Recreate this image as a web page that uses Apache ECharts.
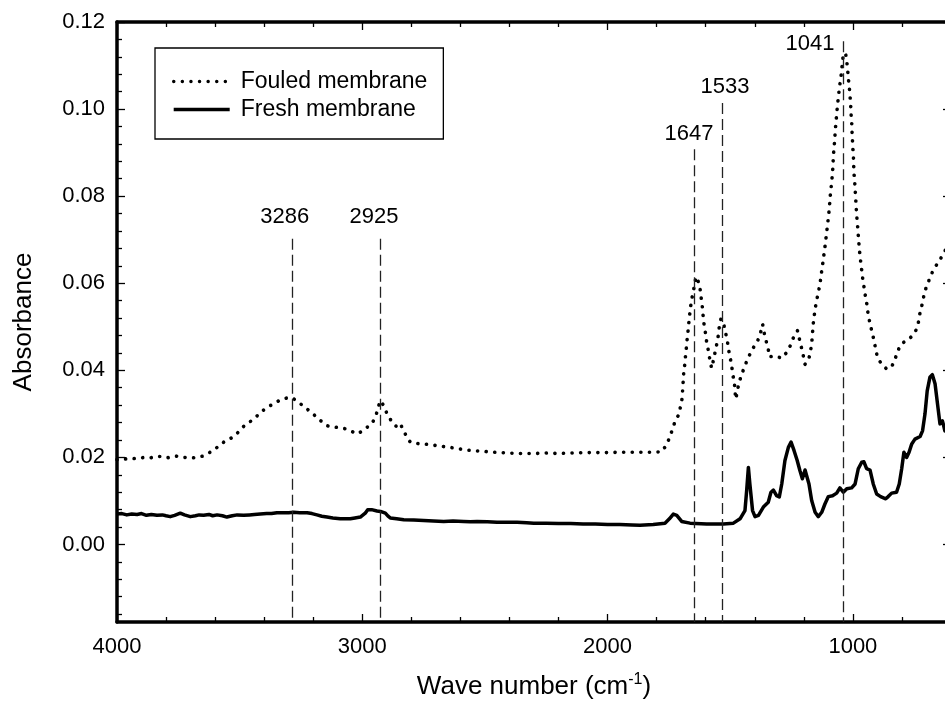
<!DOCTYPE html>
<html>
<head>
<meta charset="utf-8">
<script src="https://cdn.jsdelivr.net/npm/echarts@6/dist/echarts.min.js"></script>
<style>
html, body { margin: 0; padding: 0; overflow: hidden; background: #fff; width: 945px; height: 722px; }
#chart { width: 960px; height: 722px; }
</style>
</head>
<body>
<div id="chart"></div>
<script>
// FTIR spectra: wave number (cm-1) and absorbance
const fouledWavenumber = [4000,3973,3945,3918,3890,3864,3840,3823,3800,3783,3760,3742,3715,3690,3674,3650,3633,3610,3592,3565,3545,3524,3500,3484,3460,3443,3420,3402,3375,3350,3334,3310,3293,3275,3259,3240,3225,3205,3185,3165,3144,3125,3103,3080,3062,3040,3022,3005,2988,2975,2960,2945,2933,2926,2913,2899,2885,2872,2858,2845,2831,2818,2804,2780,2750,2720,2695,2670,2641,2610,2573,2540,2505,2470,2437,2400,2369,2330,2301,2250,2200,2150,2100,2050,2000,1950,1900,1868,1814,1780,1759,1746,1735,1725,1708,1702,1695,1694,1691,1689,1684,1682,1678,1675,1671,1668,1664,1660,1653,1646,1640,1634,1626,1621,1617,1612,1610,1606,1600,1596,1589,1583,1576,1569,1562,1555,1549,1545,1538,1528,1521,1512,1508,1501,1494,1490,1483,1481,1477,1471,1464,1453,1440,1426,1409,1388,1376,1368,1362,1354,1345,1341,1318,1290,1270,1252,1240,1226,1218,1210,1202,1195,1182,1175,1168,1165,1161,1154,1148,1141,1134,1130,1125,1120,1116,1111,1107,1103,1099,1096,1093,1091,1086,1084,1081,1080,1077,1074,1072,1069,1066,1063,1059,1055,1050,1046,1043,1039,1030,1025,1021,1019,1015,1012,1009,1008,1005,1004,1002,1001,998,997,996,993,991,989,987,985,982,979,977,974,971,967,963,959,953,948,944,940,936,930,921,914,907,900,883,862,842,828,819,808,794,781,767,754,743,733,726,717,710,702,693,686,675,665,656,645,631,620,610,600];
const fouledAbsorbance = [0.0195,0.0196,0.0198,0.0197,0.0200,0.0199,0.0202,0.0202,0.0199,0.0200,0.0203,0.0202,0.0199,0.0199,0.0200,0.0203,0.0208,0.0215,0.0223,0.0235,0.0241,0.0248,0.0261,0.0271,0.0281,0.0288,0.0300,0.0309,0.0319,0.0327,0.0332,0.0336,0.0338,0.0333,0.0326,0.0318,0.0311,0.0302,0.0292,0.0282,0.0273,0.0270,0.0269,0.0267,0.0265,0.0259,0.0254,0.0259,0.0265,0.0272,0.0278,0.0295,0.0319,0.0330,0.0319,0.0300,0.0287,0.0276,0.0270,0.0277,0.0261,0.0246,0.0235,0.0232,0.0231,0.0229,0.0227,0.0225,0.0223,0.0220,0.0217,0.0215,0.0214,0.0212,0.0211,0.0210,0.0209,0.0209,0.0209,0.0210,0.0209,0.0210,0.0211,0.0211,0.0211,0.0212,0.0212,0.0212,0.0212,0.0213,0.0229,0.0248,0.0265,0.0283,0.0300,0.0320,0.0338,0.0359,0.0380,0.0401,0.0418,0.0437,0.0456,0.0476,0.0495,0.0514,0.0535,0.0553,0.0575,0.0594,0.0615,0.0616,0.0599,0.0579,0.0560,0.0538,0.0521,0.0502,0.0483,0.0464,0.0445,0.0424,0.0405,0.0422,0.0441,0.0460,0.0479,0.0498,0.0518,0.0510,0.0491,0.0469,0.0451,0.0431,0.0411,0.0391,0.0372,0.0353,0.0334,0.0353,0.0372,0.0391,0.0411,0.0430,0.0449,0.0468,0.0487,0.0506,0.0487,0.0468,0.0449,0.0431,0.0433,0.0428,0.0441,0.0460,0.0479,0.0491,0.0472,0.0453,0.0433,0.0414,0.0422,0.0437,0.0460,0.0483,0.0510,0.0541,0.0560,0.0579,0.0598,0.0617,0.0636,0.0658,0.0674,0.0697,0.0716,0.0736,0.0755,0.0774,0.0793,0.0812,0.0831,0.0850,0.0869,0.0890,0.0910,0.0930,0.0950,0.0969,0.0989,0.1007,0.1028,0.1049,0.1068,0.1087,0.1106,0.1125,0.1129,0.1110,0.1089,0.1072,0.1053,0.1032,0.1012,0.0992,0.0972,0.0953,0.0934,0.0915,0.0896,0.0877,0.0856,0.0836,0.0818,0.0798,0.0780,0.0760,0.0739,0.0720,0.0701,0.0682,0.0663,0.0644,0.0625,0.0606,0.0586,0.0567,0.0556,0.0537,0.0525,0.0506,0.0487,0.0468,0.0449,0.0430,0.0414,0.0403,0.0408,0.0426,0.0441,0.0456,0.0464,0.0469,0.0474,0.0482,0.0492,0.0510,0.0533,0.0553,0.0573,0.0589,0.0602,0.0612,0.0627,0.0636,0.0645,0.0655,0.0666,0.0680,0.0688,0.0695];

const freshWavenumber = [4000,3980,3960,3940,3918,3900,3880,3860,3837,3815,3800,3783,3765,3742,3725,3701,3680,3665,3647,3625,3610,3592,3570,3552,3530,3510,3484,3460,3440,3416,3390,3370,3348,3320,3300,3280,3255,3225,3205,3185,3165,3144,3120,3090,3070,3049,3030,3008,2988,2978,2971,2962,2954,2940,2926,2906,2895,2886,2860,2831,2790,2750,2710,2668,2630,2587,2560,2532,2490,2451,2410,2369,2330,2301,2250,2200,2150,2100,2050,2000,1950,1900,1868,1814,1766,1748,1732,1718,1698,1664,1596,1528,1487,1460,1440,1433,1426,1420,1409,1399,1385,1365,1345,1334,1324,1311,1300,1290,1277,1263,1252,1240,1227,1216,1206,1195,1188,1179,1168,1154,1141,1127,1114,1100,1083,1066,1053,1039,1025,1005,991,978,964,955,944,930,917,903,887,866,856,842,822,811,801,792,781,771,760,747,726,716,706,697,686,676,665,655,645,635,629,625,612,600];
const freshAbsorbance = [0.0070,0.0071,0.0068,0.0070,0.0069,0.0071,0.0067,0.0069,0.0067,0.0068,0.0066,0.0064,0.0067,0.0072,0.0068,0.0064,0.0066,0.0068,0.0067,0.0069,0.0066,0.0068,0.0066,0.0063,0.0066,0.0068,0.0067,0.0068,0.0069,0.0070,0.0071,0.0071,0.0073,0.0073,0.0073,0.0074,0.0073,0.0073,0.0071,0.0068,0.0065,0.0063,0.0061,0.0059,0.0059,0.0059,0.0061,0.0063,0.0072,0.0080,0.0082,0.0080,0.0076,0.0077,0.0076,0.0072,0.0065,0.0061,0.0059,0.0057,0.0056,0.0055,0.0054,0.0053,0.0054,0.0053,0.0052,0.0053,0.0052,0.0051,0.0051,0.0051,0.0050,0.0049,0.0049,0.0048,0.0048,0.0047,0.0047,0.0046,0.0046,0.0045,0.0044,0.0046,0.0049,0.0059,0.0070,0.0067,0.0053,0.0049,0.0047,0.0047,0.0049,0.0059,0.0078,0.0124,0.0177,0.0139,0.0078,0.0064,0.0067,0.0086,0.0097,0.0120,0.0125,0.0112,0.0109,0.0139,0.0193,0.0223,0.0235,0.0216,0.0193,0.0170,0.0151,0.0171,0.0170,0.0139,0.0101,0.0074,0.0064,0.0074,0.0093,0.0110,0.0112,0.0118,0.0130,0.0120,0.0128,0.0130,0.0139,0.0174,0.0189,0.0190,0.0174,0.0171,0.0139,0.0116,0.0110,0.0105,0.0110,0.0118,0.0120,0.0139,0.0174,0.0212,0.0200,0.0212,0.0231,0.0242,0.0248,0.0261,0.0300,0.0353,0.0384,0.0390,0.0369,0.0323,0.0277,0.0284,0.0271,0.0261,0.0270,0.0265];

// Assigned bands and the absorbance where each guide line begins
const peakWavenumbers = [3286, 2925, 1647, 1533, 1041];
const peakLineTops = [0.0702, 0.0702, 0.0908, 0.1014, 0.1156];

// Axis ranges and tick values
const xRange = [600, 4000];
const yRange = [-0.0178, 0.12];
const xMajorTicks = [1000, 2000, 3000, 4000];
const yMajorTicks = [0, 0.02, 0.04, 0.06, 0.08, 0.10, 0.12];

const xMinorTicks = [];
for (let v = 800; v < 4000; v += 200) { if (v % 1000 !== 0) xMinorTicks.push(v); }
const yMinorTicks = [];
for (let i = -4; i <= 29; i++) { if (i % 5 !== 0) yMinorTicks.push(+(i * 0.004).toFixed(3)); }

// Label placement (pixel offsets from the top of each guide line)
const peakLabelOffsets = [[-7.5, -21.5], [-6.7, -21.5], [-5.2, -15.5], [2.8, -16.2], [-32.8, 2.5]];

const FONT = '"Liberation Sans", Arial, Helvetica, sans-serif';

function zip(a, b) { return a.map((v, i) => [v, b[i]]); }

function xAxisDef(pos, ticks, len, showLine, showLabel, extra) {
  return Object.assign({
    type: 'value', position: pos, min: xRange[0], max: xRange[1], inverse: true,
    axisLine: { show: showLine, onZero: false, lineStyle: { color: '#000', width: 3.5 } },
    axisTick: { show: true, inside: true, length: len, customValues: ticks, lineStyle: { color: '#000', width: 1.3 } },
    axisLabel: { show: showLabel, customValues: ticks, margin: 14, fontSize: 22, color: '#000', fontFamily: FONT,
                 formatter: v => String(v) },
    splitLine: { show: false }
  }, extra || {});
}
function yAxisDef(pos, ticks, len, showLine, showLabel, extra) {
  return Object.assign({
    type: 'value', position: pos, min: yRange[0], max: yRange[1],
    axisLine: { show: showLine, onZero: false, lineStyle: { color: '#000', width: 3.5 } },
    axisTick: { show: true, inside: true, length: len, customValues: ticks, lineStyle: { color: '#000', width: 1.3 } },
    axisLabel: { show: showLabel, customValues: ticks, margin: 12, fontSize: 22, color: '#000', fontFamily: FONT,
                 formatter: v => v.toFixed(2) },
    splitLine: { show: false }
  }, extra || {});
}

const chart = echarts.init(document.getElementById('chart'), null, { renderer: 'canvas' });
chart.setOption({
  animation: false,
  backgroundColor: '#fff',
  grid: { left: 117, top: 22, width: 834, height: 600, containLabel: false, outerBoundsMode: 'none' },
  legend: {
    data: ['Fouled membrane', 'Fresh membrane'],
    orient: 'vertical', left: 155, top: 48,
    backgroundColor: '#fff', borderColor: '#000', borderWidth: 1.3,
    padding: [22, 16, 18, 17],
    itemWidth: 56, itemHeight: 20, itemGap: 5,
    selectedMode: false,
    itemStyle: { opacity: 0 },
    lineStyle: { width: 3.4 },
    textStyle: { fontSize: 23, color: '#000', fontFamily: FONT, padding: [0, 0, 0, 6] }
  },
  xAxis: [
    xAxisDef('bottom', xMajorTicks, 8, true, true, {
      name: 'Wave number (cm{sup|-1})', nameLocation: 'middle', nameGap: 50,
      nameTextStyle: { fontSize: 26, color: '#000', fontFamily: FONT, lineHeight: 30,
        rich: { sup: { fontSize: 16, color: '#000', fontFamily: FONT, verticalAlign: 'top', lineHeight: 18 } } }
    }),
    xAxisDef('bottom', xMinorTicks, 5, false, false),
    xAxisDef('top', xMajorTicks, 8, true, false),
    xAxisDef('top', xMinorTicks, 5, false, false)
  ],
  yAxis: [
    yAxisDef('left', yMajorTicks, 8, true, true, {
      name: 'Absorbance', nameLocation: 'middle', nameGap: 80, nameRotate: 90,
      nameTextStyle: { fontSize: 26, color: '#000', fontFamily: FONT }
    }),
    yAxisDef('left', yMinorTicks, 5, false, false),
    yAxisDef('right', yMajorTicks, 8, true, false),
    yAxisDef('right', yMinorTicks, 5, false, false)
  ],
  series: [
    {
      name: 'Fouled membrane', type: 'line', xAxisIndex: 0, yAxisIndex: 0,
      data: zip(fouledWavenumber, fouledAbsorbance),
      symbol: 'none', silent: true, z: 4,
      lineStyle: { color: '#000', width: 3.6, type: [0.1, 8.5], cap: 'round', join: 'round' },
      itemStyle: { color: '#000' }
    },
    {
      name: 'Fresh membrane', type: 'line', xAxisIndex: 0, yAxisIndex: 0,
      data: zip(freshWavenumber, freshAbsorbance),
      symbol: 'none', silent: true, z: 4,
      lineStyle: { color: '#000', width: 3.5, join: 'round' },
      itemStyle: { color: '#000' }
    },
    {
      name: 'bands', type: 'scatter', xAxisIndex: 0, yAxisIndex: 0,
      symbolSize: 0.1, silent: true, z: 3,
      itemStyle: { color: 'transparent', opacity: 1 },
      data: peakWavenumbers.map((p, i) => ({
        value: [p, peakLineTops[i]],
        label: { offset: peakLabelOffsets[i] }
      })),
      label: {
        show: true, position: 'inside', align: 'center', verticalAlign: 'middle',
        formatter: p => String(p.value[0]),
        fontSize: 22, color: '#000', opacity: 1, fontFamily: FONT
      },
      markLine: {
        silent: true, symbol: ['none', 'none'], animation: false,
        label: { show: false },
        lineStyle: { type: [11, 5], color: '#222', width: 1.3 },
        emphasis: { disabled: true },
        data: peakWavenumbers.map((p, i) => [
          { coord: [p, peakLineTops[i]] },
          { coord: [p, yRange[0]] }
        ])
      }
    }
  ]
});
</script>
</body>
</html>
